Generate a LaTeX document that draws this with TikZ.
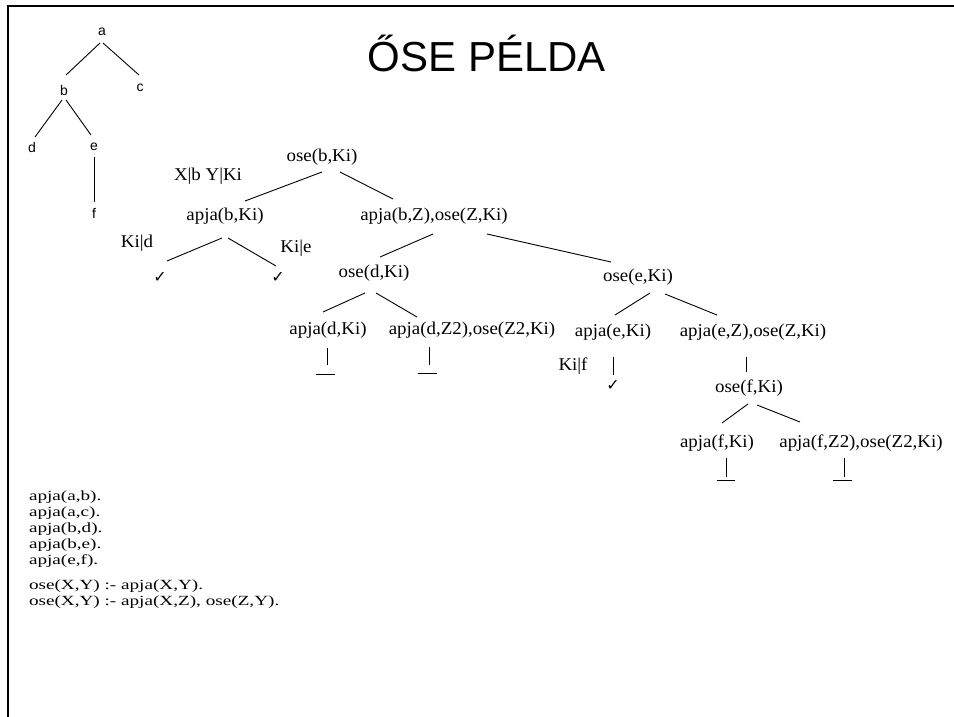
\documentclass[tikz,border=0pt]{standalone}
\usepackage{fontspec}
\setmainfont{Liberation Serif}
\newfontfamily\treefont[FakeStretch=1.05]{Liberation Serif}
\newfontfamily\codefont[FakeStretch=1.37]{Liberation Serif}
\newfontfamily\sansf{Liberation Sans}
\newfontfamily\symf{DejaVu Sans}
\tikzset{
  goal/.style={font=\treefont\fontsize{18}{20}\selectfont},
  lbl/.style={font=\treefont\fontsize{18}{20}\selectfont},
  tick/.style={font=\symf\fontsize{16}{18}\selectfont},
  leaf/.style={font=\sansf\fontsize{14}{16}\selectfont},
  edge/.style={line width=0.9pt},
  frame/.style={line width=2.3pt}
}
\begin{document}
\begin{tikzpicture}[x=1pt,y=-1pt, every node/.style={inner sep=0pt, outer sep=0pt}]
\useasboundingbox (0,0) rectangle (954,717);
\fill[white] (0,0) rectangle (954,717);
% frame
\coordinate (fa) at (7.8,717);
\coordinate (fb) at (7.8,6.2);
\coordinate (fc) at (954,6.2);
\draw[frame] (fa) -- (fb) -- (fc);

% title
\node[font=\sansf\fontsize{42}{46}\selectfont, anchor=base] (title) at (487,72) {ŐSE PÉLDA};

% small family tree
\node[leaf] (ta) at (102,32) {a};
\node[leaf] (tb) at (64,90) {b};
\node[leaf] (tc) at (140,88) {c};
\node[leaf] (td) at (32,147) {d};
\node[leaf] (te) at (94,147) {e};
\node[leaf] (tf) at (94,213) {f};
\draw[edge] ([shift={(-2,11)}]ta.center) -- ([shift={(2,-15)}]tb.center);
\draw[edge] ([shift={(1,11)}]ta.center) -- ([shift={(-1,-13)}]tc.center);
\draw[edge] ([shift={(-2,10)}]tb.center) -- ([shift={(3,-10)}]td.center);
\draw[edge] ([shift={(2,10)}]tb.center) -- ([shift={(-3,-12)}]te.center);
\draw[edge] ([shift={(0,10)}]te.center) -- ([shift={(0,-11)}]tf.center);

% search tree
\node[goal] (obk) at (322,157) {ose(b,Ki)};
\node[lbl]  (xb)  at (208,176) {X|b Y|Ki};
\node[goal] (abk) at (225,216) {apja(b,Ki)};
\node[goal] (abz) at (434,216) {apja(b,Z),ose(Z,Ki)};
\node[lbl]  (kid) at (137,243) {Ki|d};
\node[lbl]  (kie) at (296,248) {Ki|e};
\node[tick] (ck1) at (160,277) {✓};
\node[tick] (ck2) at (278,277) {✓};
\node[goal] (odk) at (374,273) {ose(d,Ki)};
\node[goal] (oek) at (638,277) {ose(e,Ki)};
\node[goal] (adk) at (328,330) {apja(d,Ki)};
\node[goal] (adz) at (472,330) {apja(d,Z2),ose(Z2,Ki)};
\node[goal] (aek) at (613,332) {apja(e,Ki)};
\node[goal] (aez) at (753,332) {apja(e,Z),ose(Z,Ki)};
\node[lbl]  (kif) at (573,366) {Ki|f};
\node[tick] (ck3) at (613,385) {✓};
\node[goal] (ofk) at (749,388) {ose(f,Ki)};
\node[goal] (afk) at (717,443) {apja(f,Ki)};
\node[goal] (afz) at (861,443) {apja(f,Z2),ose(Z2,Ki)};

\draw[edge] ([shift={(0,15)}]obk.center) -- ([shift={(20,-15)}]abk.center);
\draw[edge] ([shift={(18,15)}]obk.center) -- ([shift={(-41,-17)}]abz.center);
\draw[edge] ([shift={(-3,22)}]abk.center) -- ([shift={(7,-16)}]ck1.center);
\draw[edge] ([shift={(3,22)}]abk.center) -- ([shift={(-2,-11)}]ck2.center);
\draw[edge] ([shift={(-1,18)}]abz.center) -- ([shift={(6,-16)}]odk.center);
\draw[edge] ([shift={(53,18)}]abz.center) -- ([shift={(-27,-15)}]oek.center);
\draw[edge] ([shift={(-9,20)}]odk.center) -- ([shift={(-5,-18)}]adk.center);
\draw[edge] ([shift={(2,20)}]odk.center) -- ([shift={(-55,-13)}]adz.center);
\draw[edge] ([shift={(12,16)}]oek.center) -- ([shift={(2,-17)}]aek.center);
\draw[edge] ([shift={(27,17)}]oek.center) -- ([shift={(-36,-17)}]aez.center);
\draw[edge] ([shift={(0,25)}]aek.center) -- ([shift={(0,-10)}]ck3.center);
\draw[edge] ([shift={(-7,25)}]aez.center) -- ([shift={(-3,-16)}]ofk.center);
\draw[edge] ([shift={(-1,16)}]ofk.center) -- ([shift={(5,-20)}]afk.center);
\draw[edge] ([shift={(8,17)}]ofk.center) -- ([shift={(-61,-21)}]afz.center);

% failure marks
\draw[edge] ([shift={(-1,18)}]adk.center) -- ++(0,17);
\draw[edge] ([shift={(-12,44)}]adk.center) -- ++(19,0);
\draw[edge] ([shift={(-43,17)}]adz.center) -- ++(0,18);
\draw[edge] ([shift={(-54,43)}]adz.center) -- ++(19,0);
\draw[edge] ([shift={(9,15)}]afk.center) -- ++(0,19);
\draw[edge] ([shift={(0,37)}]afk.center) -- ++(18,0);
\draw[edge] ([shift={(-17,15)}]afz.center) -- ++(0,19);
\draw[edge] ([shift={(-28,37)}]afz.center) -- ++(19,0);

% program text
\node[font=\codefont\fontsize{14}{16}\selectfont, anchor=north west, align=left] (prog) at (29,491)
{apja(a,b).\\apja(a,c).\\apja(b,d).\\apja(b,e).\\apja(e,f).\\[9pt]ose(X,Y) :- apja(X,Y).\\ose(X,Y) :- apja(X,Z), ose(Z,Y).};
\end{tikzpicture}
\end{document}
